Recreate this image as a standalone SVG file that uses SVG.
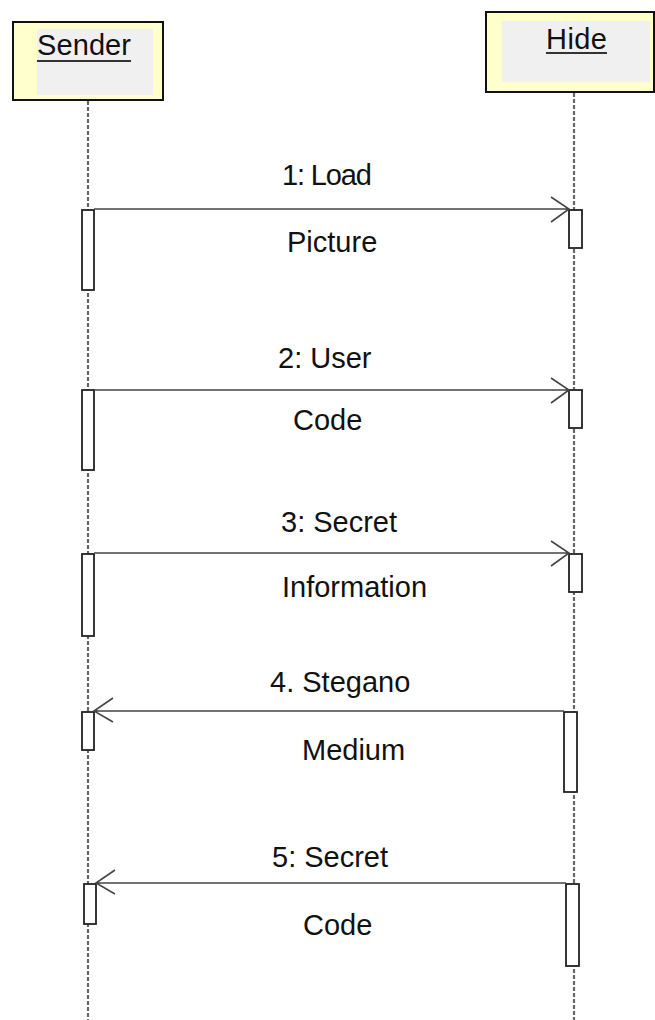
<svg xmlns="http://www.w3.org/2000/svg" width="655" height="1020" viewBox="0 0 655 1020">
<style>
.lbl{font-family:"Liberation Sans",Arial,sans-serif;font-size:29px;fill:#111}
.box{fill:#ffffcc;stroke:#111;stroke-width:2}
.inner{fill:#f0f0f0;stroke:none}
.life{stroke:#666;stroke-width:2.2;stroke-dasharray:4 2;fill:none}
.act{fill:#fff;stroke:#222;stroke-width:1.8}
.msg{stroke:#444;stroke-width:1.6;fill:none}
.ul{stroke:#333;stroke-width:2}
</style>
<rect width="655" height="1020" fill="#fff"/>
<g id="lifelines">
<line class="life" x1="88" y1="101" x2="88" y2="1020"/>
<line class="life" x1="574" y1="93" x2="574" y2="1020"/>
</g>
<g id="sender">
<rect class="box" x="13" y="22" width="150" height="78"/>
<rect class="inner" x="37" y="29" width="116" height="66"/>
<text class="lbl" x="37" y="55" textLength="94">Sender</text>
<line class="ul" x1="37" y1="61" x2="131" y2="61"/>
</g>
<g id="hide">
<rect class="box" x="486" y="12" width="168" height="80"/>
<rect class="inner" x="502" y="21" width="148" height="61"/>
<text class="lbl" x="546" y="49" textLength="61">Hide</text>
<line class="ul" x1="546" y1="53" x2="607" y2="53"/>
</g>
<g id="activations">
<rect class="act" x="82" y="210" width="12" height="80"/>
<rect class="act" x="569" y="210" width="13" height="38"/>
<rect class="act" x="82" y="390" width="12" height="80"/>
<rect class="act" x="569" y="390" width="13" height="38"/>
<rect class="act" x="82" y="554" width="12" height="82"/>
<rect class="act" x="569" y="554" width="13" height="38"/>
<rect class="act" x="82" y="712" width="12" height="38"/>
<rect class="act" x="564" y="712" width="13" height="80"/>
<rect class="act" x="84" y="884" width="12" height="40"/>
<rect class="act" x="566" y="884" width="13" height="82"/>
</g>
<g id="connectors">
<path class="msg" d="M94 209H569M551 197L569 209L551 222"/>
<path class="msg" d="M94 390H569M551 378L569 390L551 403"/>
<path class="msg" d="M94 553H569M551 541L569 553L551 566"/>
<path class="msg" d="M564 711H94M113 698L94 711L113 722"/>
<path class="msg" d="M566 883H96M115 870L96 883L115 894"/>
</g>
<g id="labels">
<text class="lbl" x="282" y="185" textLength="90">1: Load</text>
<text class="lbl" x="287" y="252">Picture</text>
<text class="lbl" x="278" y="368">2: User</text>
<text class="lbl" x="293" y="430">Code</text>
<text class="lbl" x="281" y="532">3: Secret</text>
<text class="lbl" x="282" y="597">Information</text>
<text class="lbl" x="270" y="692">4. Stegano</text>
<text class="lbl" x="302" y="760">Medium</text>
<text class="lbl" x="272" y="867">5: Secret</text>
<text class="lbl" x="303" y="935">Code</text>
</g>
</svg>
